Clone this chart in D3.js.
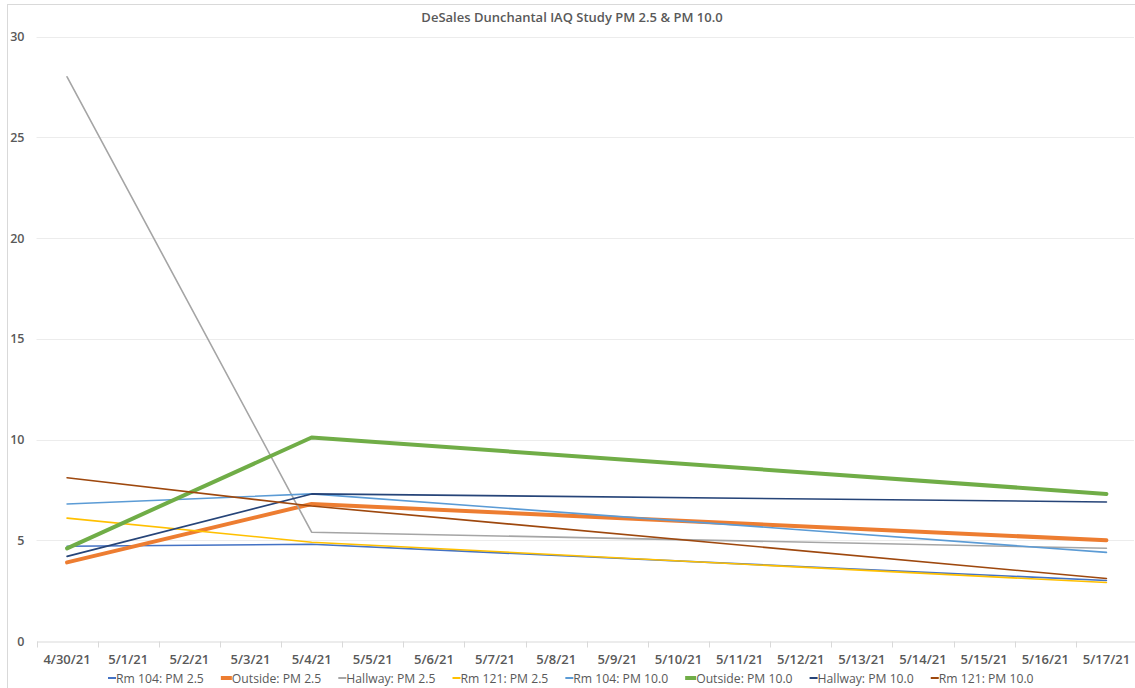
<!DOCTYPE html>
<html>
<head>
<meta charset="utf-8">
<script src="https://cdn.jsdelivr.net/npm/d3@7"></script>
<style>
  html, body { margin: 0; padding: 0; background: #fff; }
  svg { display: block; font-family: "Open Sans", "Liberation Sans", sans-serif; }
</style>
</head>
<body>
<svg id="chart" width="1135" height="688"></svg>
<script>
// Sampling dates (daily category axis)
const dates = ["4/30/21","5/1/21","5/2/21","5/3/21","5/4/21","5/5/21","5/6/21","5/7/21","5/8/21",
  "5/9/21","5/10/21","5/11/21","5/12/21","5/13/21","5/14/21","5/15/21","5/16/21","5/17/21"];

// Readings were taken on 4/30, 5/4 and 5/17 only; other days are empty (null)
const gap8 = [null,null,null];
const blank12 = [null,null,null,null,null,null,null,null,null,null,null,null];
const rm104_pm25   = [4.7, ...gap8, 4.8, ...blank12, 3.0];
const outside_pm25 = [3.9, ...gap8, 6.8, ...blank12, 5.0];
const hallway_pm25 = [28.0, ...gap8, 5.4, ...blank12, 4.6];
const rm121_pm25   = [6.1, ...gap8, 4.9, ...blank12, 2.9];
const rm104_pm10   = [6.8, ...gap8, 7.3, ...blank12, 4.4];
const outside_pm10 = [4.6, ...gap8, 10.1, ...blank12, 7.3];
const hallway_pm10 = [4.2, ...gap8, 7.3, ...blank12, 6.9];
const rm121_pm10   = [8.1, ...gap8, 6.7, ...blank12, 3.1];

const yTicks = [0, 5, 10, 15, 20, 25, 30];

const series = [
  { name: "Rm 104: PM 2.5",   values: rm104_pm25,   color: "#4472C4", width: 1.6 },
  { name: "Outside: PM 2.5",  values: outside_pm25, color: "#ED7D31", width: 4 },
  { name: "Hallway: PM 2.5",  values: hallway_pm25, color: "#A5A5A5", width: 1.6 },
  { name: "Rm 121: PM 2.5",   values: rm121_pm25,   color: "#FFC000", width: 1.6 },
  { name: "Rm 104: PM 10.0",  values: rm104_pm10,   color: "#5B9BD5", width: 1.6 },
  { name: "Outside: PM 10.0", values: outside_pm10, color: "#70AD47", width: 4 },
  { name: "Hallway: PM 10.0", values: hallway_pm10, color: "#264478", width: 1.6 },
  { name: "Rm 121: PM 10.0",  values: rm121_pm10,   color: "#9E480E", width: 1.6 }
];

const svg = d3.select("#chart");
const W = 1135, H = 688;
const plot = { left: 36.5, right: 1137, top: 36.5, bottom: 641 };

// Outer chart border
svg.append("rect")
  .attr("x", 7.5).attr("y", 4.5).attr("width", W + 10).attr("height", H + 10)
  .attr("fill", "none").attr("stroke", "#d9d9d9").attr("stroke-width", 1);

// Title
svg.append("text")
  .attr("x", 572).attr("y", 22)
  .attr("text-anchor", "middle")
  .attr("font-size", 13).attr("font-weight", 600).attr("fill", "#595959")
  .text("DeSales Dunchantal IAQ Study PM 2.5 & PM 10.0");

const x = d3.scaleBand().domain(dates).range([plot.left, plot.right]);
const y = d3.scaleLinear().domain([0, 30]).range([plot.bottom, plot.top]);

// Horizontal gridlines
svg.append("g")
  .selectAll("line").data(yTicks.filter(t => t > 0)).join("line")
  .attr("x1", plot.left).attr("x2", 1134)
  .attr("y1", d => Math.round(y(d)) + 0.5).attr("y2", d => Math.round(y(d)) + 0.5)
  .attr("stroke", "#ececec").attr("stroke-width", 1);

// Y axis labels
const yAxis = svg.append("g")
  .attr("transform", `translate(${plot.left},0)`)
  .call(d3.axisLeft(y).tickValues(yTicks).tickSize(0).tickPadding(12));
yAxis.select(".domain").remove();
yAxis.selectAll("text")
  .attr("font-size", 12.5).attr("font-weight", 600).attr("fill", "#595959")
  .attr("font-family", "Open Sans, Liberation Sans, sans-serif");

// X axis with category boundary ticks
const xAxis = svg.append("g")
  .attr("transform", `translate(0,${Math.round(plot.bottom) + 0.5})`)
  .call(d3.axisBottom(x).tickSize(0).tickPadding(13));
xAxis.select(".domain").attr("stroke", "#d9d9d9");
xAxis.selectAll("text")
  .attr("font-size", 13).attr("font-weight", 600).attr("fill", "#595959")
  .attr("font-family", "Open Sans, Liberation Sans, sans-serif");
xAxis.append("g").selectAll("line")
  .data(d3.range(dates.length + 1)).join("line")
  .attr("x1", i => Math.round(plot.left + i * x.step()) + 0.5)
  .attr("x2", i => Math.round(plot.left + i * x.step()) + 0.5)
  .attr("y1", 0).attr("y2", 6)
  .attr("stroke", "#d9d9d9");

// Series lines (gaps bridged between recorded dates)
const line = d3.line()
  .x(d => x(d.date) + x.bandwidth() / 2)
  .y(d => y(d.v));

svg.append("g")
  .selectAll("path").data(series).join("path")
  .attr("d", s => line(s.values.map((v, i) => ({ date: dates[i], v })).filter(d => d.v != null)))
  .attr("fill", "none")
  .attr("stroke", s => s.color)
  .attr("stroke-width", s => s.width)
  .attr("stroke-linejoin", "round")
  .attr("stroke-linecap", "round");

// Legend
const legend = svg.append("g").attr("transform", "translate(108,678)");
let lx = 0;
series.forEach(s => {
  const g = legend.append("g").attr("transform", `translate(${lx},0)`);
  const mw = s.width > 2 ? 11 : 8;
  g.append("line")
    .attr("x1", 0).attr("x2", mw).attr("y1", 0).attr("y2", 0)
    .attr("stroke", s.color).attr("stroke-width", s.width > 2 ? 4 : 2);
  const t = g.append("text")
    .attr("x", mw).attr("y", 4.5)
    .attr("font-size", 12.2).attr("fill", "#595959")
    .text(s.name);
  const tw = t.node().getComputedTextLength();
  lx += mw + tw + 17;
});
</script>
</body>
</html>
